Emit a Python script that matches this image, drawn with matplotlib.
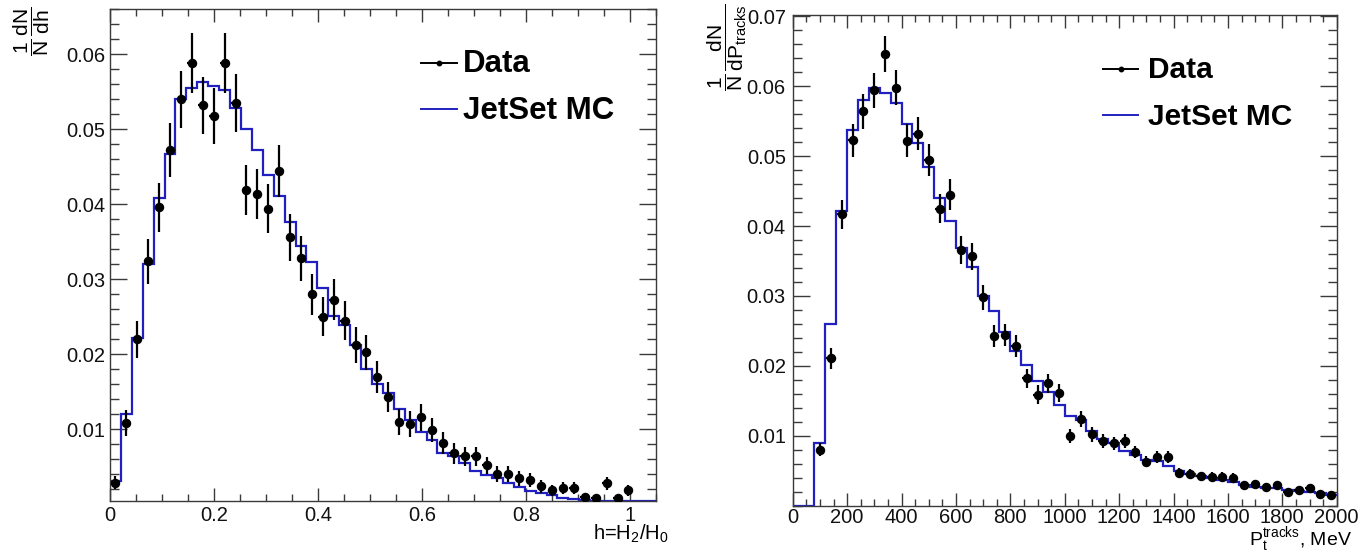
import numpy as np
import matplotlib
matplotlib.use("Agg")
import matplotlib.pyplot as plt
from matplotlib.ticker import MultipleLocator, FixedLocator, FuncFormatter

plt.rcParams['font.family'] = ['Liberation Sans', 'DejaVu Sans']
plt.rcParams['mathtext.fontset'] = 'custom'
plt.rcParams['mathtext.rm'] = 'Liberation Sans'
plt.rcParams['mathtext.it'] = 'Liberation Sans'
plt.rcParams['mathtext.bf'] = 'Liberation Sans:bold'

# ---------------- data: left panel (h = H2/H0), 50 bins on [0, 1.05] ----------------
h_range = (0.0, 1.05)
h_nbins = 50
h_data = [0.0029, 0.0109, 0.0220, 0.0324, 0.0396, 0.0472, 0.0540, 0.0589, 0.0532, 0.0518,
          0.0589, 0.0535, 0.0419, 0.0414, 0.0394, 0.0444, 0.0356, 0.0328, 0.0280, 0.0250,
          0.0273, 0.0245, 0.0212, 0.0203, 0.0170, 0.0143, 0.0110, 0.0107, 0.0116, 0.0099,
          0.0082, 0.0068, 0.0064, 0.0064, 0.0052, 0.0041, 0.0041, 0.0035, 0.0032, 0.0024,
          0.0019, 0.0022, 0.0022, 0.0010, 0.0008, 0.0028, 0.0008, 0.0019, np.nan, np.nan]
h_err = [0.00089, 0.00172, 0.00245, 0.00297, 0.00328, 0.00359, 0.00383, 0.00400, 0.00380, 0.00376,
         0.00400, 0.00382, 0.00338, 0.00336, 0.00328, 0.00348, 0.00311, 0.00299, 0.00276, 0.00261,
         0.00273, 0.00258, 0.00240, 0.00235, 0.00215, 0.00197, 0.00173, 0.00171, 0.00178, 0.00164,
         0.00149, 0.00136, 0.00132, 0.00132, 0.00119, 0.00106, 0.00106, 0.00098, 0.00093, 0.00081,
         0.00072, 0.00077, 0.00077, 0.00052, 0.00047, 0.00087, 0.00047, 0.00072, np.nan, np.nan]
h_mc = [0.00315, 0.0121, 0.0222, 0.0320, 0.0409, 0.0467, 0.0540, 0.0555, 0.0563, 0.0558,
        0.0553, 0.0528, 0.0501, 0.0472, 0.0439, 0.0411, 0.0377, 0.0345, 0.0323, 0.0289,
        0.0251, 0.0239, 0.0212, 0.0180, 0.0161, 0.0149, 0.0127, 0.0112, 0.0097, 0.0086,
        0.0068, 0.0064, 0.0055, 0.0044, 0.0039, 0.0035, 0.0028, 0.0023, 0.0018, 0.0015,
        0.0012, 0.0009, 0.0007, 0.0006, 0.0005, 0.0005, 0.0005, 0.0005, 0.0005, 0.0005]
h_yticks = [0.01, 0.02, 0.03, 0.04, 0.05, 0.06]
h_xticks = [0, 0.2, 0.4, 0.6, 0.8, 1.0]

# ---------------- data: right panel (Pt tracks, MeV), 50 bins on [0, 2000] ----------------
p_range = (0.0, 2000.0)
p_nbins = 50
p_data = [np.nan, np.nan, 0.0080, 0.0211, 0.0417, 0.0523, 0.0564, 0.0594, 0.0646, 0.0598,
          0.0522, 0.0532, 0.0495, 0.0425, 0.0445, 0.0366, 0.0357, 0.0298, 0.0243, 0.0244,
          0.0228, 0.0182, 0.0159, 0.0175, 0.0161, 0.0100, 0.0124, 0.0102, 0.0093, 0.0089,
          0.0092, 0.0077, 0.0063, 0.0070, 0.0069, 0.0047, 0.0046, 0.0042, 0.0041, 0.0041,
          0.0040, 0.0030, 0.0031, 0.0027, 0.0030, 0.0019, 0.0022, 0.0026, 0.0017, 0.0015]
p_err = [np.nan, np.nan, 0.00092, 0.00150, 0.00210, 0.00236, 0.00245, 0.00251, 0.00262, 0.00252,
         0.00235, 0.00238, 0.00229, 0.00212, 0.00217, 0.00197, 0.00195, 0.00178, 0.00161, 0.00161,
         0.00156, 0.00139, 0.00130, 0.00136, 0.00131, 0.00103, 0.00115, 0.00104, 0.00099, 0.00097,
         0.00099, 0.00090, 0.00082, 0.00086, 0.00086, 0.00071, 0.00070, 0.00067, 0.00066, 0.00066,
         0.00065, 0.00056, 0.00057, 0.00054, 0.00056, 0.00045, 0.00048, 0.00053, 0.00042, 0.00040]
p_mc = [0.0, 0.0, 0.0090, 0.0260, 0.0422, 0.0538, 0.0581, 0.0598, 0.0591, 0.0576,
        0.0546, 0.0519, 0.0485, 0.0440, 0.0407, 0.0368, 0.0342, 0.0300, 0.0279, 0.0248,
        0.0221, 0.0201, 0.0178, 0.0163, 0.0144, 0.0128, 0.0122, 0.0107, 0.0096, 0.0089,
        0.0078, 0.0073, 0.0065, 0.0064, 0.0057, 0.0050, 0.0046, 0.0043, 0.0040, 0.0037,
        0.0034, 0.0030, 0.0027, 0.0026, 0.0025, 0.0023, 0.0021, 0.0020, 0.0018, 0.0016]
p_yticks = [0.01, 0.02, 0.03, 0.04, 0.05, 0.06, 0.07]
p_xticks = [0, 200, 400, 600, 800, 1000, 1200, 1400, 1600, 1800, 2000]

legend_labels = ["Data", "JetSet MC"]

# ---------------- figure ----------------
W, H = 1363, 553
fig = plt.figure(figsize=(W / 100, H / 100), dpi=100)

def fx(px):
    return px / W

def fy(py):
    return 1 - py / H

ax1 = fig.add_axes([fx(110), fy(500.7), fx(655.7 - 110), (500.7 - 9.3) / H])
ax2 = fig.add_axes([fx(792.7), fy(505.7), fx(1336.7 - 792.7), (505.7 - 15) / H])

MC_COLOR = '#2020c0'
FRAME = '#3a3a3a'


def draw(ax, rng, nb, data, err, mc, xminor, ylim, yticks, xticks, xfmt, ypad, xpad):
    edges = np.linspace(rng[0], rng[1], nb + 1)
    centers = 0.5 * (edges[:-1] + edges[1:])
    bw = edges[1] - edges[0]
    ax.stairs(np.array(mc), edges, baseline=None, color=MC_COLOR, lw=1.6, zorder=2)
    d = np.array(data, dtype=float)
    e = np.array(err, dtype=float)
    ok = ~np.isnan(d)
    ax.errorbar(centers[ok], d[ok], yerr=e[ok], xerr=0.4 * bw, fmt='o', color='black',
                ms=5.8, elinewidth=1.6, capsize=0, zorder=3)
    ax.set_xlim(rng)
    ax.set_ylim(ylim)
    ax.yaxis.set_major_locator(FixedLocator(yticks))
    ax.yaxis.set_minor_locator(MultipleLocator(0.002))
    ax.xaxis.set_major_locator(FixedLocator(xticks))
    ax.xaxis.set_minor_locator(MultipleLocator(xminor))
    ax.xaxis.set_major_formatter(FuncFormatter(xfmt))
    ax.yaxis.set_major_formatter(FuncFormatter(lambda v, p: f"{v:.2f}"))
    for s in ax.spines.values():
        s.set_color(FRAME)
        s.set_linewidth(1.0)
    ax.tick_params(which='both', direction='in', top=True, right=True, colors=FRAME,
                   labelcolor='#111111', labelsize=14.5, width=1.0)
    ax.tick_params(axis='x', which='major', length=9.5, pad=xpad)
    ax.tick_params(axis='x', which='minor', length=4.8)
    ax.tick_params(axis='y', which='major', length=12, pad=ypad)
    ax.tick_params(axis='y', which='minor', length=6.5)


def hfmt(v, p):
    if abs(v) < 1e-9:
        return "0"
    if abs(v - 1) < 1e-9:
        return "1"
    return f"{v:.1f}"


draw(ax1, h_range, h_nbins, h_data, h_err, h_mc, 0.05, (0.0005, 0.066),
     h_yticks, h_xticks, hfmt, 3.6, 4.0)
draw(ax2, p_range, p_nbins, p_data, p_err, p_mc, 50, (0.0, 0.0702),
     p_yticks, p_xticks, lambda v, p: f"{int(round(v))}", 5.0, 1.5)

# ---------------- legends (drawn in figure pixel positions) ----------------
def legend(x0, x1, ytop, ybot, xt, fs):
    fig.add_artist(plt.Line2D([fx(x0), fx(x1)], [fy(ytop), fy(ytop)], color='black', lw=1.4,
                              transform=fig.transFigure))
    fig.add_artist(plt.Line2D([fx((x0 + x1) / 2)], [fy(ytop)], color='black', marker='o', ms=3.2,
                              lw=0, transform=fig.transFigure))
    fig.text(fx(xt), fy(ytop + 1), legend_labels[0], fontsize=fs, fontweight='bold',
             ha='left', va='center')
    fig.add_artist(plt.Line2D([fx(x0), fx(x1)], [fy(ybot), fy(ybot)], color=MC_COLOR, lw=1.4,
                              transform=fig.transFigure))
    fig.text(fx(xt), fy(ybot + 2), legend_labels[1], fontsize=fs, fontweight='bold',
             ha='left', va='center')

legend(420.7, 456.7, 63.3, 109, 463, 22.5)
legend(1102.7, 1138.3, 69.3, 115, 1148, 21.5)

# ---------------- axis titles ----------------
fig.text(fx(32), fy(7), r'$\dfrac{1}{N}\,\dfrac{dN}{dh}$', rotation=90, fontsize=15,
         ha='center', va='top')
fig.text(fx(727), fy(3), r'$\dfrac{1}{N}\,\dfrac{dN}{dP_{tracks}}$', rotation=90, fontsize=15,
         ha='center', va='top')
fig.text(fx(669), fy(540), r'h=H$_{2}$/H$_{0}$', fontsize=14.5, ha='right', va='baseline')
fig.text(fx(1352), fy(545.5), r'P$_{t}^{tracks}$, MeV', fontsize=14, ha='right', va='baseline')

fig.savefig("out.png", dpi=100)
